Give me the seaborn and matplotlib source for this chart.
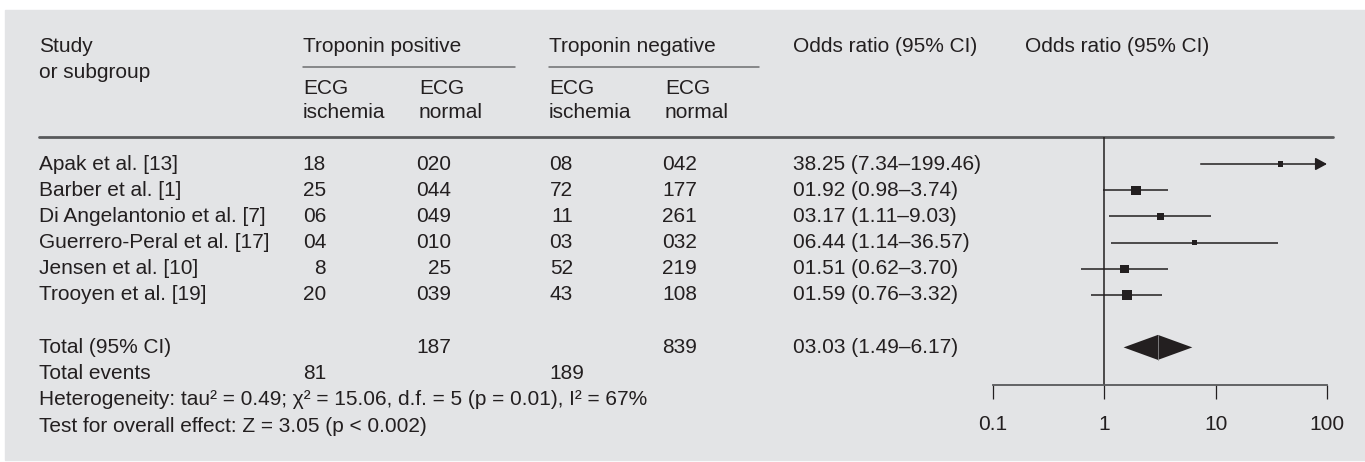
import numpy as np
import pandas as pd
import matplotlib
matplotlib.use("Agg")
import matplotlib.pyplot as plt
import seaborn as sns
from matplotlib.patches import Rectangle, Polygon

# 数据
studies = ["Apak et al. [13]", "Barber et al. [1]", "Di Angelantonio et al. [7]",
           "Guerrero-Peral et al. [17]", "Jensen et al. [10]", "Trooyen et al. [19]"]
tp_isch = ["18", "25", "06", "04", "8", "20"]
tp_norm = ["020", "044", "049", "010", "25", "039"]
tn_isch = ["08", "72", "11", "03", "52", "43"]
tn_norm = ["042", "177", "261", "032", "219", "108"]
or_est = [38.25, 1.92, 3.17, 6.44, 1.51, 1.59]
ci_low = [7.34, 0.98, 1.11, 1.14, 0.62, 0.76]
ci_high = [199.46, 3.74, 9.03, 36.57, 3.70, 3.32]
or_text = ["38.25 (7.34–199.46)", "01.92 (0.98–3.74)", "03.17 (1.11–9.03)",
           "06.44 (1.14–36.57)", "01.51 (0.62–3.70)", "01.59 (0.76–3.32)"]
box_px = [5.5, 9.3, 7, 5.5, 8.5, 9.5]   # 方块大小（权重）

total_or, total_low, total_high = 3.03, 1.49, 6.17
total_text = "03.03 (1.49–6.17)"
total_pos_n, total_neg_n = "187", "839"
events_pos, events_neg = "81", "189"
xticks = [0.1, 1, 10, 100]
xtick_labels = ["0.1", "1", "10", "100"]

sns.set_style("white")
plt.rcParams['font.family'] = ['Liberation Sans', 'DejaVu Sans']
ink = '#231f20'
bg = '#e3e4e6'
fs = 15

W, H = 1365, 462
fig = plt.figure(figsize=(W / 100, H / 100), dpi=100, facecolor='white')

# 表格部分（像素坐标）
ax_t = fig.add_axes([0, 0, 1, 1])
ax_t.set_xlim(0, W)
ax_t.set_ylim(H, 0)
ax_t.axis('off')
ax_t.add_patch(Rectangle((5, 10), W - 5, 450, color=bg, zorder=0))

row_y0, row_h = 164, 26.2
def ry(r):
    return row_y0 + r * row_h

def txt(x, y, s, ha='left'):
    ax_t.text(x, y, s, ha=ha, va='center', fontsize=fs, color=ink)

# 表头
col_left = [303, 419, 549, 665]
txt(39, 46, "Study")
txt(39, 72, "or subgroup")
txt(303, 46, "Troponin positive")
txt(549, 46, "Troponin negative")
txt(793, 46, "Odds ratio (95% CI)")
txt(1025, 46, "Odds ratio (95% CI)")
for x, lab in zip(col_left, ["ischemia", "normal", "ischemia", "normal"]):
    txt(x, 88, "ECG")
    txt(x, 113, lab)
ax_t.plot([303, 515], [67, 67], color='#6d6e70', lw=1.1)
ax_t.plot([549, 759], [67, 67], color='#6d6e70', lw=1.1)
ax_t.plot([39, 1333], [137, 137], color='#58595b', lw=2.0)

# 研究行
col_right = [326, 451, 573, 697]
for i, s in enumerate(studies):
    y = ry(i)
    txt(39, y, s)
    for x, col in zip(col_right, [tp_isch, tp_norm, tn_isch, tn_norm]):
        txt(x, y, col[i], ha='right')
    txt(793, y, or_text[i])

# 合计行
txt(39, ry(7), "Total (95% CI)")
txt(col_right[1], ry(7), total_pos_n, ha='right')
txt(col_right[3], ry(7), total_neg_n, ha='right')
txt(793, ry(7), total_text)
txt(39, ry(8), "Total events")
txt(col_left[0], ry(8), events_pos)
txt(col_left[2], ry(8), events_neg)
txt(39, ry(9), "Heterogeneity: tau² = 0.49; χ² = 15.06, d.f. = 5 (p = 0.01), I² = 67%")
txt(39, ry(10), "Test for overall effect: Z = 3.05 (p < 0.002)")

# 森林图
x0, x1, ytop, ybot = 993, 1327, 137, 385
ax_f = fig.add_axes([x0 / W, (H - ybot) / H, (x1 - x0) / W, (ybot - ytop) / H])
ax_f.patch.set_alpha(0)
ax_f.set_xscale('log')
ax_f.set_xlim(0.1, 100)
ax_f.set_ylim((ybot - row_y0) / row_h, (ytop - row_y0) / row_h)

rows = np.arange(len(studies))
df = pd.DataFrame({"or": or_est, "row": rows, "lo": ci_low, "hi": ci_high, "box": box_px})

ax_f.axvline(1, color=ink, lw=1.1, zorder=1)
inside = df[df.hi <= 100]
ax_f.hlines(inside.row, inside.lo, inside.hi, color=ink, lw=1.1, zorder=2)
for _, r in df[df.hi > 100].iterrows():
    ax_f.annotate("", xy=(100, r.row), xytext=(r.lo, r.row), annotation_clip=False,
                  arrowprops=dict(arrowstyle='-|>,head_length=0.7,head_width=0.38',
                                  color=ink, lw=1.1, shrinkA=0, shrinkB=0))
sns.scatterplot(data=df, x="or", y="row", marker='s', color=ink, edgecolor='none',
                s=(df.box * 0.72) ** 2, ax=ax_f, zorder=3, legend=False)

# 合计菱形
half_h = 12.5 / row_h
ax_f.add_patch(Polygon([(total_low, 7), (total_or, 7 - half_h), (total_high, 7),
                        (total_or, 7 + half_h)], closed=True, color=ink, lw=0, zorder=3))
ax_f.plot([total_or, total_or], [7 - half_h, 7 + half_h], color='#8a8a8c', lw=0.6, zorder=4)

for s in ['top', 'right', 'left']:
    ax_f.spines[s].set_visible(False)
ax_f.spines['bottom'].set_color('#58595b')
ax_f.spines['bottom'].set_linewidth(1.3)
ax_f.set_xticks(xticks)
ax_f.set_xticklabels(xtick_labels)
ax_f.minorticks_off()
ax_f.tick_params(axis='x', bottom=True, direction='out', length=10, width=0.9, color=ink,
                 labelsize=fs, labelcolor=ink, pad=11.5)
ax_f.set_yticks([])
ax_f.set_xlabel('')
ax_f.set_ylabel('')

fig.savefig("out.png", dpi=100, facecolor='white')
